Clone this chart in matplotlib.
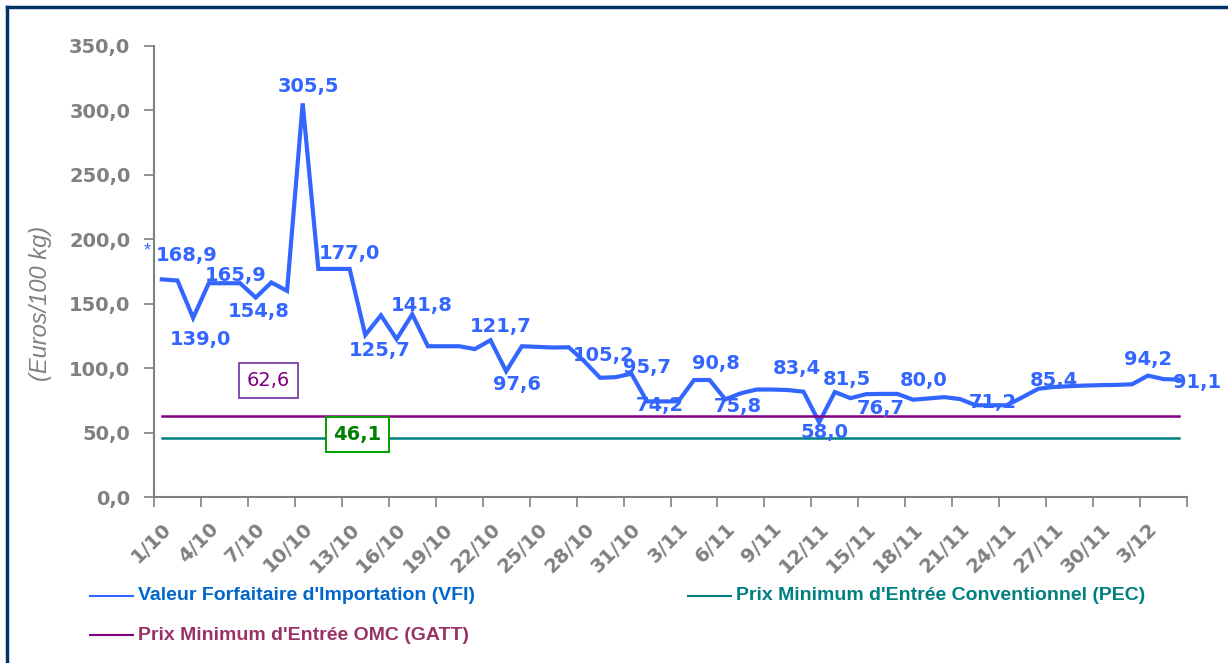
import numpy as np
import matplotlib
matplotlib.use("Agg")
import matplotlib.pyplot as plt
from matplotlib.lines import Line2D
from matplotlib.ticker import FuncFormatter

plt.rcParams['font.family'] = ['Liberation Sans', 'DejaVu Sans']

# daily import values, 1/10 -> 5/12 (Euros/100 kg)
vfi = [168.9, 168.0, 139.0, 165.9, 165.9, 165.9, 154.8, 166.5, 160.0, 305.5,
       177.0, 177.0, 177.0, 125.7, 141.0, 122.5, 141.8, 117.0, 117.0, 117.0,
       114.8, 121.7, 97.6, 117.0, 116.5, 116.0, 116.2, 105.2, 92.5, 93.0,
       95.7, 74.2, 74.2, 74.2, 90.8, 90.8, 75.8, 80.5, 83.4, 83.4,
       83.0, 81.7, 58.0, 81.5, 76.7, 79.8, 80.0, 80.0, 75.5, 76.5,
       77.5, 76.0, 71.2, 71.2, 71.2, 77.5, 84.0, 85.4, 86.0, 86.5,
       86.8, 87.0, 87.5, 94.2, 91.5, 91.1]
gatt = 62.6
pec = 46.1

tick_labels = ["1/10", "4/10", "7/10", "10/10", "13/10", "16/10", "19/10", "22/10",
               "25/10", "28/10", "31/10", "3/11", "6/11", "9/11", "12/11", "15/11",
               "18/11", "21/11", "24/11", "27/11", "30/11", "3/12"]

# which points get a value label, and where the label sits (offset in pixels)
label_idx = [0, 2, 3, 6, 9, 10, 13, 16, 21, 22, 27, 30, 31, 34, 36, 39,
             42, 43, 44, 47, 52, 57, 63, 65]
label_off = [(25, 24), (7, -22), (27, 8), (3, -14), (6, 17), (31, 15), (14, -15),
             (9, 9), (10, 14), (11, -13), (19, 6), (16, 6), (13, -4), (22, 16),
             (13, -7), (25, 21), (5, -10), (12, 12), (30, -10), (26, 13),
             (17, 3), (0, 6), (0, 16), (18, -3)]

blue = "#3366FF"
gray = "#808080"
num_font = 'DejaVu Sans'

fig = plt.figure(figsize=(12.28, 6.63), dpi=100)
ax = fig.add_axes([154 / 1228, 1 - 497 / 663, (1187 - 154) / 1228, (497 - 46) / 663])

x = np.arange(len(vfi))
ax.plot(x, vfi, color=blue, lw=3, solid_joinstyle='miter')
ax.plot([x[0], x[-1]], [gatt, gatt], color="#800080", lw=1.8)
ax.plot([x[0], x[-1]], [pec, pec], color="#008080", lw=1.8)

for i, (dx, dy) in zip(label_idx, label_off):
    ax.annotate(f"{vfi[i]:.1f}".replace('.', ','), (x[i], vfi[i]),
                xytext=(dx, dy), textcoords='offset pixels', family=num_font,
                ha='center', va='center', color=blue, fontsize=14, fontweight='bold')
ax.annotate("*", (x[0], vfi[0]), xytext=(-15, 28), textcoords='offset pixels',
            ha='center', va='center', color=blue, fontsize=13)

ax.annotate(f"{gatt:.1f}".replace('.', ','), (6.8, gatt), xytext=(0, 36),
            textcoords='offset pixels', ha='center', va='center', color="#800080",
            fontsize=14, family=num_font,
            bbox=dict(boxstyle='square,pad=0.4', fc='white', ec="#7030A0", lw=1.2))
ax.annotate(f"{pec:.1f}".replace('.', ','), (12.5, pec), xytext=(0, 3),
            textcoords='offset pixels', ha='center', va='center', color="#008000",
            fontsize=14, fontweight='bold', family=num_font,
            bbox=dict(boxstyle='square,pad=0.4', fc='white', ec="#00A000", lw=1.4))

ax.set_ylim(0, 350)
ax.set_xlim(-0.5, len(vfi) - 0.5)
ax.set_yticks(np.arange(0, 351, 50))
ax.yaxis.set_major_formatter(FuncFormatter(lambda v, p: f"{v:.1f}".replace('.', ',')))
ax.tick_params(axis='y', colors=gray, labelsize=14, length=7, width=1.2, pad=10)
for t in ax.get_yticklabels():
    t.set_fontweight('bold')
    t.set_family(num_font)

ax.set_xticks(np.arange(-0.5, len(vfi), 3))
ax.set_xticklabels([])
ax.set_xticks(np.arange(0, len(vfi), 3)[:len(tick_labels)], minor=True)
ax.set_xticklabels(tick_labels, minor=True, rotation=45, ha='right', family=num_font,
                   rotation_mode='anchor', fontsize=14, fontweight='bold', color=gray)
ax.tick_params(axis='x', which='major', colors=gray, length=7, width=1.2)
ax.tick_params(axis='x', which='minor', length=0, pad=16)

for s in ['top', 'right']:
    ax.spines[s].set_visible(False)
for s in ['left', 'bottom']:
    ax.spines[s].set_color(gray)
    ax.spines[s].set_linewidth(1.5)

fig.text(41 / 1228, 1 - 303 / 663, "(Euros/100 kg)", rotation=90, style='italic',
         color=gray, fontsize=17, ha='center', va='center')

# legend drawn by hand
legend_items = [("Valeur Forfaitaire d'Importation (VFI)", blue, "#0066CC", 90, 596),
                ("Prix Minimum d'Entrée Conventionnel (PEC)", "#008080", "#008080", 688, 596),
                ("Prix Minimum d'Entrée OMC (GATT)", "#800080", "#993366", 90, 635)]
for text, lc, tc, px, py in legend_items:
    fig.add_artist(Line2D([px / 1228, (px + 43) / 1228], [1 - py / 663, 1 - py / 663],
                          color=lc, lw=1.5))
    fig.text((px + 48) / 1228, 1 - py / 663, text, color=tc, fontsize=14,
             fontweight='bold', ha='left', va='center')

# frame (top and left edges visible)
fig.add_artist(Line2D([7 / 1228, 7 / 1228], [0, 1 - 7 / 663], color="#003366", lw=2.5))
fig.add_artist(Line2D([7 / 1228, 1], [1 - 7 / 663, 1 - 7 / 663], color="#003366", lw=2.5))

fig.savefig("out.png", dpi=100)
